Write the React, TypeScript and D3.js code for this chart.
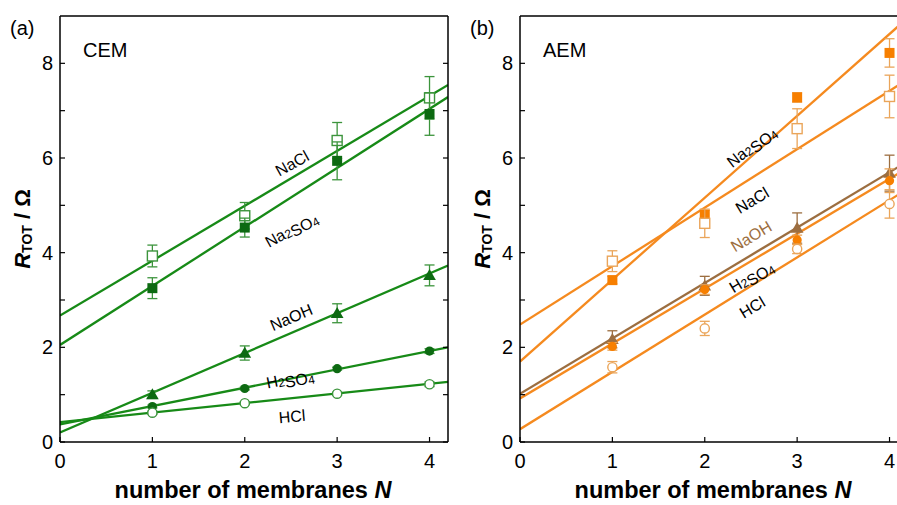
import { useEffect, useRef } from 'react';
import * as d3 from 'd3';

// N values for every series
const membranes = [1, 2, 3, 4];

// (a) CEM
const cemNames = ['NaCl', 'Na2SO4', 'NaOH', 'H2SO4', 'HCl'];
const cemNaCl = [3.93, 4.78, 6.37, 7.27];
const cemNaClErr = [0.23, 0.28, 0.38, 0.45];
const cemNa2SO4 = [3.25, 4.53, 5.94, 6.93];
const cemNa2SO4Err = [0.22, 0.2, 0.4, 0.45];
const cemNaOH = [1.0, 1.88, 2.72, 3.52];
const cemNaOHErr = [0.08, 0.15, 0.2, 0.22];
const cemH2SO4 = [0.75, 1.13, 1.55, 1.92];
const cemH2SO4Err = [0.03, 0.03, 0.03, 0.05];
const cemHCl = [0.62, 0.82, 1.02, 1.22];
const cemHClErr = [0.03, 0.03, 0.03, 0.05];
const cemIntercepts = [2.67, 2.05, 0.2, 0.37, 0.42];
const cemSlopes = [1.16, 1.247, 0.84, 0.388, 0.202];

// (b) AEM
const aemNames = ['Na2SO4', 'NaCl', 'NaOH', 'H2SO4', 'HCl'];
const aemNa2SO4 = [3.42, 4.8, 7.28, 8.22];
const aemNa2SO4Err = [0.08, 0.1, 0.1, 0.3];
const aemNaCl = [3.82, 4.62, 6.62, 7.3];
const aemNaClErr = [0.22, 0.3, 0.42, 0.45];
const aemNaOH = [2.17, 3.3, 4.52, 5.68];
const aemNaOHErr = [0.18, 0.2, 0.32, 0.38];
const aemH2SO4 = [2.02, 3.22, 4.27, 5.52];
const aemH2SO4Err = [0.08, 0.1, 0.1, 0.25];
const aemHCl = [1.58, 2.4, 4.08, 5.03];
const aemHClErr = [0.12, 0.15, 0.1, 0.3];
const aemIntercepts = [1.7, 2.48, 1.02, 0.92, 0.27];
const aemSlopes = [1.73, 1.235, 1.17, 1.16, 1.21];

const xTicks = [0, 1, 2, 3, 4];
const yTicks = [0, 2, 4, 6, 8];
const yMinor = [1, 3, 5, 7];

const W = 897, H = 505;
const GREEN = '#178a17', GREEN_DARK = '#0d6a12', GREEN_LIGHT = '#3c943c';
const ORANGE = '#f58a1f', ORANGE_FILL = '#f77f00', ORANGE_LIGHT = '#eaa55a', BROWN = '#9c6e40';

type Series = {
  name: string; values: number[]; err: number[]; a: number; b: number;
  marker: string; open: boolean; line: string; fill: string; errColor: string;
  label: { x: number; y: number; angle: number; color: string };
};

const cemSeries: Series[] = [
  { name: cemNames[0], values: cemNaCl, err: cemNaClErr, a: cemIntercepts[0], b: cemSlopes[0], marker: 'square', open: true, line: GREEN, fill: GREEN_LIGHT, errColor: GREEN_LIGHT, label: { x: 292, y: 163, angle: -29, color: '#000' } },
  { name: cemNames[1], values: cemNa2SO4, err: cemNa2SO4Err, a: cemIntercepts[1], b: cemSlopes[1], marker: 'square', open: false, line: GREEN, fill: GREEN_DARK, errColor: GREEN_LIGHT, label: { x: 291, y: 229, angle: -29, color: '#000' } },
  { name: cemNames[2], values: cemNaOH, err: cemNaOHErr, a: cemIntercepts[2], b: cemSlopes[2], marker: 'triangle', open: false, line: GREEN, fill: GREEN_DARK, errColor: GREEN_LIGHT, label: { x: 291, y: 317, angle: -23, color: '#000' } },
  { name: cemNames[3], values: cemH2SO4, err: cemH2SO4Err, a: cemIntercepts[3], b: cemSlopes[3], marker: 'circle', open: false, line: GREEN, fill: GREEN_DARK, errColor: GREEN_LIGHT, label: { x: 290, y: 378, angle: -11, color: '#000' } },
  { name: cemNames[4], values: cemHCl, err: cemHClErr, a: cemIntercepts[4], b: cemSlopes[4], marker: 'circle', open: true, line: GREEN, fill: GREEN_LIGHT, errColor: GREEN_LIGHT, label: { x: 292, y: 416, angle: -5, color: '#000' } },
];

const aemSeries: Series[] = [
  { name: aemNames[0], values: aemNa2SO4, err: aemNa2SO4Err, a: aemIntercepts[0], b: aemSlopes[0], marker: 'square', open: false, line: ORANGE, fill: ORANGE_FILL, errColor: ORANGE_LIGHT, label: { x: 751, y: 146, angle: -38, color: '#000' } },
  { name: aemNames[1], values: aemNaCl, err: aemNaClErr, a: aemIntercepts[1], b: aemSlopes[1], marker: 'square', open: true, line: ORANGE, fill: ORANGE_LIGHT, errColor: ORANGE_LIGHT, label: { x: 752, y: 200, angle: -31, color: '#000' } },
  { name: aemNames[2], values: aemNaOH, err: aemNaOHErr, a: aemIntercepts[2], b: aemSlopes[2], marker: 'triangle', open: false, line: BROWN, fill: BROWN, errColor: BROWN, label: { x: 751, y: 236, angle: -31, color: BROWN } },
  { name: aemNames[3], values: aemH2SO4, err: aemH2SO4Err, a: aemIntercepts[3], b: aemSlopes[3], marker: 'circle', open: false, line: ORANGE, fill: ORANGE_FILL, errColor: ORANGE_LIGHT, label: { x: 751, y: 276, angle: -31, color: '#000' } },
  { name: aemNames[4], values: aemHCl, err: aemHClErr, a: aemIntercepts[4], b: aemSlopes[4], marker: 'circle', open: true, line: ORANGE, fill: ORANGE_LIGHT, errColor: ORANGE_LIGHT, label: { x: 752, y: 307, angle: -31, color: '#000' } },
];

// writes "Na2SO4" with subscript digits
function chemText(sel: any, name: string) {
  name.split(/(\d)/).filter(s => s !== '').forEach(part => {
    if (/\d/.test(part)) {
      sel.append('tspan').attr('font-size', '0.75em').attr('dy', '0.25em').text(part);
      sel.append('tspan').attr('dy', '-0.25em').text('');
    } else {
      sel.append('tspan').text(part);
    }
  });
}

function drawPanel(svg: any, left: number, right: number, tag: string, title: string, series: Series[]) {
  const top = 16, bottom = 442;
  const font = 'Liberation Sans, Arial, sans-serif';
  const x = d3.scaleLinear().domain([0, 4.2]).range([left, right]);
  const y = d3.scaleLinear().domain([0, 9]).range([bottom, top]);

  const clipId = 'clip-' + tag.replace(/\W/g, '');
  svg.append('clipPath').attr('id', clipId)
    .append('rect').attr('x', left).attr('y', top).attr('width', right - left).attr('height', bottom - top);

  const plot = svg.append('g').attr('clip-path', `url(#${clipId})`);

  // fit lines
  series.forEach(s => {
    const line = d3.line<number>().x(n => x(n)).y(n => y(s.a + s.b * n));
    plot.append('path').datum([0, 4.2]).attr('d', line)
      .attr('fill', 'none').attr('stroke', s.line).attr('stroke-width', 2.3);
  });

  // error bars and markers
  series.forEach(s => {
    const g = plot.append('g');
    s.values.forEach((v, i) => {
      const cx = x(membranes[i]);
      const y0 = y(v - s.err[i]), y1 = y(v + s.err[i]);
      g.append('line').attr('x1', cx).attr('x2', cx).attr('y1', y0).attr('y2', y1)
        .attr('stroke', s.errColor).attr('stroke-width', 1.3);
      [y0, y1].forEach(yy => g.append('line').attr('x1', cx - 5).attr('x2', cx + 5)
        .attr('y1', yy).attr('y2', yy).attr('stroke', s.errColor).attr('stroke-width', 1.3));
    });
    s.values.forEach((v, i) => {
      const cx = x(membranes[i]), cy = y(v);
      let m;
      if (s.marker === 'square') {
        m = g.append('rect').attr('x', cx - 5).attr('y', cy - 5).attr('width', 10).attr('height', 10);
      } else if (s.marker === 'circle') {
        m = g.append('circle').attr('cx', cx).attr('cy', cy).attr('r', 4.6);
      } else {
        m = g.append('path').attr('d', d3.symbol(d3.symbolTriangle, 70)()).attr('transform', `translate(${cx},${cy + 1})`);
      }
      if (s.open) m.attr('fill', '#fff').attr('stroke', s.fill).attr('stroke-width', 1.4);
      else m.attr('fill', s.fill).attr('stroke', 'none');
    });
  });

  // line labels
  series.forEach(s => {
    const t = svg.append('text')
      .attr('transform', `translate(${s.label.x},${s.label.y}) rotate(${s.label.angle})`)
      .attr('text-anchor', 'middle').attr('dominant-baseline', 'central')
      .attr('font-family', font).attr('font-size', 16).attr('fill', s.label.color);
    chemText(t, s.name);
  });

  // frame
  const ax = svg.append('g').attr('stroke', '#000').attr('stroke-width', 1.5).attr('fill', 'none');
  ax.append('line').attr('x1', left).attr('x2', left).attr('y1', top).attr('y2', bottom);
  ax.append('line').attr('x1', left).attr('x2', right).attr('y1', bottom).attr('y2', bottom);
  ax.append('line').attr('x1', left).attr('x2', right).attr('y1', top).attr('y2', top);
  ax.append('line').attr('x1', right).attr('x2', right).attr('y1', top).attr('y2', bottom);

  const tk = svg.append('g').attr('stroke', '#000').attr('stroke-width', 1.2);
  yTicks.concat(yMinor).forEach(v => {
    tk.append('line').attr('x1', left).attr('x2', left + 5).attr('y1', y(v)).attr('y2', y(v));
    tk.append('line').attr('x1', right).attr('x2', right - 5).attr('y1', y(v)).attr('y2', y(v));
  });
  xTicks.forEach(v => {
    tk.append('line').attr('x1', x(v)).attr('x2', x(v)).attr('y1', bottom).attr('y2', bottom - 5);
  });

  svg.append('g').selectAll('text').data(yTicks).enter().append('text')
    .attr('x', left - 7).attr('y', d => y(d)).attr('text-anchor', 'end').attr('dominant-baseline', 'central')
    .attr('font-family', font).attr('font-size', 20).text(d => d);
  svg.append('g').selectAll('text').data(xTicks).enter().append('text')
    .attr('x', d => x(d)).attr('y', bottom + 19).attr('text-anchor', 'middle').attr('dominant-baseline', 'central')
    .attr('font-family', font).attr('font-size', 20).text(d => d);

  svg.append('text').attr('x', left - 50).attr('y', 28).attr('dominant-baseline', 'central')
    .attr('font-family', font).attr('font-size', 20).text(tag);
  svg.append('text').attr('x', left + 23).attr('y', 50).attr('dominant-baseline', 'central')
    .attr('font-family', font).attr('font-size', 20).text(title);

  const xl = svg.append('text').attr('x', left + 193).attr('y', 490).attr('text-anchor', 'middle')
    .attr('dominant-baseline', 'central').attr('font-family', font).attr('font-size', 23.5).attr('font-weight', 'bold');
  xl.append('tspan').text('number of membranes ');
  xl.append('tspan').attr('font-style', 'italic').text('N');

  const yl = svg.append('text').attr('transform', `translate(${left - 38},${(top + bottom) / 2}) rotate(-90)`)
    .attr('text-anchor', 'middle').attr('dominant-baseline', 'central')
    .attr('font-family', font).attr('font-size', 22).attr('font-weight', 'bold');
  yl.append('tspan').attr('font-style', 'italic').text('R');
  yl.append('tspan').attr('font-size', 14).attr('dy', 5).text('TOT');
  yl.append('tspan').attr('dy', -5).text(' / Ω');
}

const App = () => {
  const chartRef = useRef<HTMLDivElement>(null);

  useEffect(() => {
    const svg = d3.select(chartRef.current)
      .append('svg')
      .attr('width', W)
      .attr('height', H)
      .style('position', 'absolute')
      .style('left', 0)
      .style('top', 0)
      .style('background', '#fff');

    drawPanel(svg, 60, 448, '(a)', 'CEM', cemSeries);
    drawPanel(svg, 520, 908, '(b)', 'AEM', aemSeries);

    return () => {
      d3.select(chartRef.current).select('svg').remove();
    };
  }, []);

  return <div ref={chartRef}></div>;
};

export default App;
